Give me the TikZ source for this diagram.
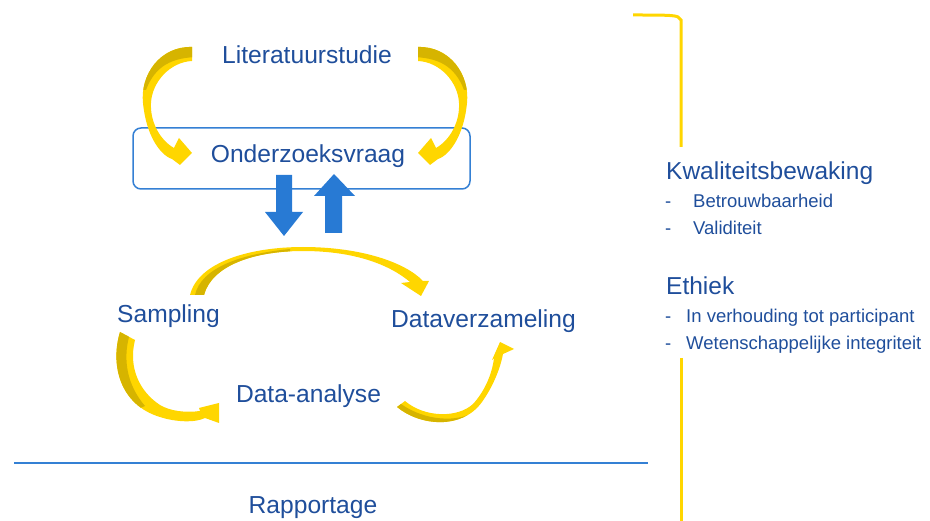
\documentclass[tikz,border=0pt]{standalone}
\usepackage{fontspec}
\setmainfont{Liberation Sans}
\definecolor{txtblue}{RGB}{31,78,155}
\definecolor{boxblue}{RGB}{52,128,212}
\definecolor{arrblue}{RGB}{40,122,212}
\definecolor{ylw}{RGB}{255,214,0}
\definecolor{ylwdark}{RGB}{214,180,0}
\tikzset{
  bigtxt/.style={text=txtblue,font=\fontsize{24.6}{29}\selectfont,inner sep=0pt,anchor=base},
  smalltxt/.style={text=txtblue,font=\fontsize{18.5}{22}\selectfont,inner sep=0pt,anchor=base west},
  headtxt/.style={text=txtblue,font=\fontsize{24.5}{29}\selectfont,inner sep=0pt,anchor=base west},
  ribbonfill/.style={fill=ylw,draw=none},
  ribbondark/.style={fill=ylwdark,draw=none},
  blockarrow/.style={fill=arrblue,draw=none},
  bracket/.style={draw=ylw,line width=3pt}
}
\begin{document}
\begin{tikzpicture}[x=1pt,y=-1pt]
\useasboundingbox (0,0) rectangle (930,521);
% texts
\node[bigtxt] (lit) at (307,64) {Literatuurstudie};
\node[draw=boxblue,line width=1.5pt,rounded corners=8pt,minimum width=337pt,minimum height=61pt,inner sep=0pt] (box) at (301.5,158.5) {};
\node[bigtxt] (ond) at (308,163) {Onderzoeksvraag};
\node[bigtxt] (samp) at (168.5,323) {Sampling};
\node[bigtxt] (dver) at (483.5,328) {Dataverzameling};
\node[bigtxt] (dana) at (308.5,403) {Data-analyse};
\node[bigtxt] (rapp) at (313,514) {Rapportage};
% top-left ribbon arrow (Literatuurstudie -> Onderzoeksvraag)
\coordinate (tla) at (192,47); \coordinate (tlb) at (192,153);
\begin{scope}
\clip (tla) .. controls (160,46) and (140,75) .. (143,103)
  .. controls (146,135) and (160,155) .. (172,159) -- (180,165) -- (tlb) -- (179,138) -- (174,148)
  .. controls (160,140) and (150,122) .. (151,103) .. controls (152,82) and (170,62) .. (192,61) -- cycle;
\fill[ribbonfill] (130,40) rectangle (200,170);
\fill[ribbondark] (200,57) .. controls (172,57) and (155,66) .. (146,90) -- (130,90) -- (130,35) -- (200,35) -- cycle;
\end{scope}
% top-right ribbon arrow (mirror)
\begin{scope}[xshift=610pt,xscale=-1]
\coordinate (tra) at (192,47); \coordinate (trb) at (192,153);
\clip (tra) .. controls (160,46) and (140,75) .. (143,103)
  .. controls (146,135) and (160,155) .. (172,159) -- (180,165) -- (trb) -- (179,138) -- (174,148)
  .. controls (160,140) and (150,122) .. (151,103) .. controls (152,82) and (170,62) .. (192,61) -- cycle;
\fill[ribbonfill] (130,40) rectangle (200,170);
\fill[ribbondark] (200,57) .. controls (172,57) and (155,66) .. (146,90) -- (130,90) -- (130,35) -- (200,35) -- cycle;
\end{scope}
% cycle: Sampling -> Dataverzameling
\coordinate (c1a) at (190,295); \coordinate (c1b) at (421,296);
\begin{scope}
\clip (c1a) .. controls (198,262) and (250,247) .. (303,247)
  .. controls (360,247) and (405,262) .. (423,281) -- (429,281) -- (c1b) -- (401,283) -- (410,282)
  .. controls (390,265) and (355,251) .. (303,251) .. controls (255,251) and (212,265) .. (204,295) -- cycle;
\fill[ribbonfill] (185,240) rectangle (435,300);
\fill[ribbondark] (195,300) -- (195,295) .. controls (201,268) and (240,254) .. (290,249) -- (290,270) -- (210,300) -- cycle;
\end{scope}
% cycle: Sampling -> Data-analyse
\coordinate (c2a) at (120,332); \coordinate (c2b) at (219,403);
\begin{scope}
\clip (c2a) .. controls (110,365) and (120,405) .. (160,417)
  .. controls (175,422) and (195,423) .. (205,418) -- (219,423) -- (c2b) -- (199,408) -- (200,411)
  .. controls (185,413) and (170,411) .. (160,405) .. controls (140,392) and (128,368) .. (135,340) -- cycle;
\fill[ribbonfill] (100,325) rectangle (225,430);
\fill[ribbondark] (129,337) .. controls (123,360) and (127,385) .. (145,406) -- (100,425) -- (100,320) -- (135,320) -- cycle;
\end{scope}
% cycle: Data-analyse -> Dataverzameling
\coordinate (c3a) at (397,407); \coordinate (c3b) at (500,342);
\begin{scope}
\clip (c3a) .. controls (420,426) and (462,430) .. (482,402)
  .. controls (492,388) and (500,370) .. (503,354) -- (514,349) -- (c3b) -- (492,360) -- (494,358)
  .. controls (492,375) and (484,392) .. (473,404) .. controls (458,418) and (425,418) .. (405,401) -- cycle;
\fill[ribbonfill] (390,335) rectangle (520,435);
\fill[ribbondark] (401,404) .. controls (425,421) and (458,423) .. (476,411) -- (490,440) -- (390,440) -- (390,404) -- cycle;
\end{scope}
% blue block arrows
\fill[blockarrow] (276,175) -- (292,175) -- (292,212) -- (303,212) -- (284,236) -- (265,212) -- (276,212) -- cycle;
\fill[blockarrow] (325,233) -- (342,233) -- (342,196) -- (355,196) -- (334,174) -- (314,196) -- (325,196) -- cycle;
% horizontal line
\coordinate (hl1) at (14,463); \coordinate (hl2) at (648,463);
\draw[draw=boxblue,line width=2.5pt] (hl1) -- (hl2);
% bracket
\coordinate (br1) at (633,15); \coordinate (br2) at (681,147);
\coordinate (br3) at (681,358); \coordinate (br4) at (681,521);
\draw[bracket] (br1) .. controls (660,15) and (675,15) .. (678,17) -- (681,20) -- (br2);
\draw[bracket] (br3) -- (br4);
% right texts
\node[headtxt] (kw) at (666,180) {Kwaliteitsbewaking};
\node[smalltxt] (d1) at (665,208) {-};
\node[smalltxt] (betr) at (693,208) {Betrouwbaarheid};
\node[smalltxt] (d2) at (665,235) {-};
\node[smalltxt] (val) at (693,235) {Validiteit};
\node[headtxt] (eth) at (666,295) {Ethiek};
\node[smalltxt] (d3) at (665,323) {-};
\node[smalltxt] (verh) at (686,323) {In verhouding tot participant};
\node[smalltxt] (d4) at (665,350) {-};
\node[smalltxt] (wet) at (686,350) {Wetenschappelijke integriteit};
\end{tikzpicture}
\end{document}
